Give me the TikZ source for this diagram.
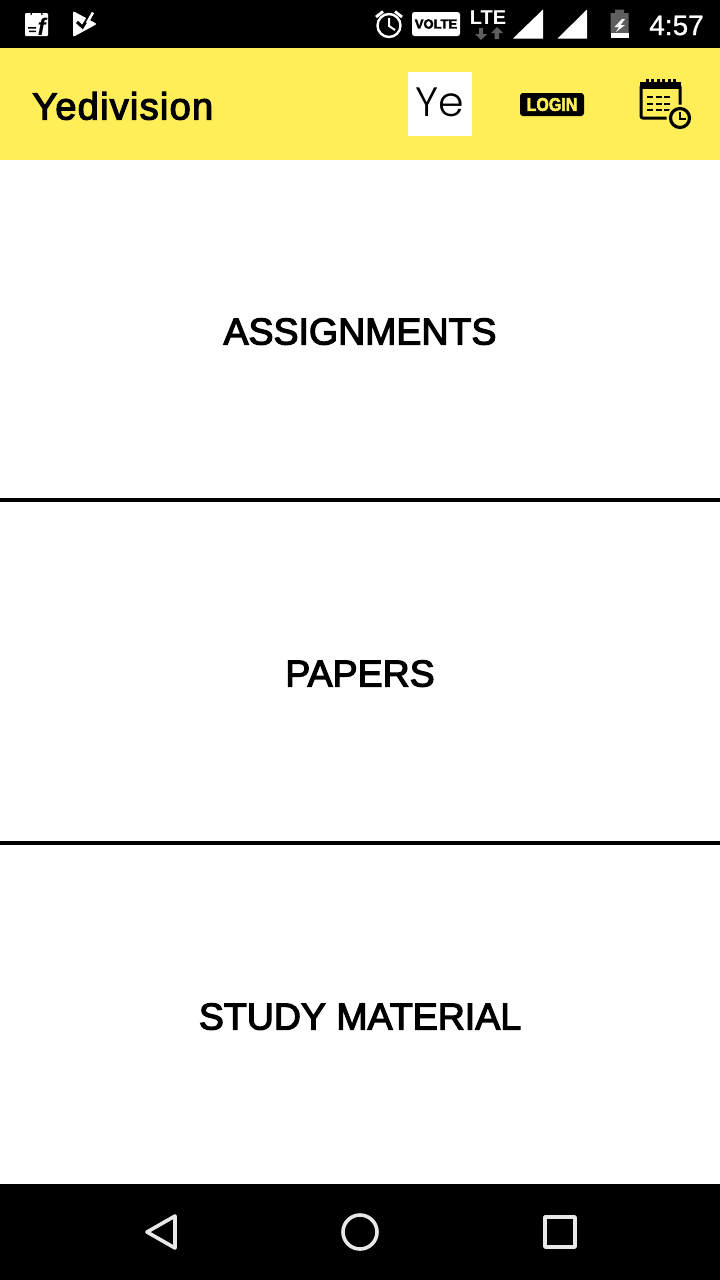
\documentclass[tikz,border=0pt]{standalone}
\usepackage{fontspec}
\setmainfont{Liberation Sans}
\newfontfamily\medfont{Liberation Sans}[FakeBold=3.2]
\newfontfamily\timefont{Liberation Sans}[FakeBold=1]
\newfontfamily\titlefont{Liberation Sans}[FakeBold=3.2,LetterSpace=3.3]
\newfontfamily\heavyfont{Liberation Sans Bold}[FakeBold=3]
\newfontfamily\thinfont{Poppins Light}
\definecolor{hdr}{HTML}{FFEE58}
\definecolor{navw}{HTML}{E8E8E8}
\definecolor{dimg}{HTML}{5E5E5E}
\begin{document}
\begin{tikzpicture}[x=1pt,y=-1pt,
  menu/.style={font=\fontsize{37.5}{37.5}\medfont,anchor=base,inner sep=0pt,text=black},
  divider/.style={line width=4pt,black},
  navicon/.style={draw=navw,line width=3.6pt,line join=round},
  caldash/.style={line width=2.6pt,black}]
\useasboundingbox (0,0) rectangle (720,1280);
\fill[white] (0,0) rectangle (720,1280);
\fill[black] (0,0) rectangle (720,48);
\fill[hdr] (0,48) rectangle (720,160);
\fill[black] (0,1184) rectangle (720,1280);
% status left: bag
\fill[white,rounded corners=1pt] (25,13) rectangle (48,36);
\draw[black,line width=1.2pt] (31,15) arc[start angle=180,end angle=360,x radius=5.5,y radius=6];
\node[inner sep=0pt,anchor=base,text=black] (flip) at (41.5,35) {\fontsize{24}{24}\selectfont\bfseries\itshape f};
\fill[black] (28,27) rectangle (36,28.5) (29,30.5) rectangle (36,32);
% status left: play store
\fill[white,rounded corners=2pt] (73,11) -- (97,24) -- (73,37) -- cycle;
\draw[black,line width=3pt] (77,22) -- (82.5,27) -- (90,15);
\draw[white,line width=2.6pt] (93,12.5) -- (87,23);
% status right
\draw[white,line width=2.4pt] (389,25.5) circle[radius=11.5];
\draw[white,line width=2pt] (389,18) -- (389,26) -- (395,30);
\draw[white,line width=2.8pt] (376,17) -- (383,11.5) (395,11.5) -- (402,17);
\node[fill=white,rounded corners=2.5pt,minimum width=48pt,minimum height=24pt,inner sep=0pt,text=black,font=\fontsize{13}{13}\heavyfont] (volte) at (436,24) {VOLTE};
\node[text=white,inner sep=0pt,anchor=base,font=\fontsize{20}{20}\selectfont\bfseries] (lte) at (488,24.5) {LTE};
\fill[dimg] (479,28) rectangle (483,34) (475,34) -- (487,34) -- (481,40) -- cycle;
\fill[dimg] (494.5,33) rectangle (499,39) (491,33) -- (503,33) -- (497,27) -- cycle;
\fill[white] (513,38.5) -- (543,38.5) -- (543,9.5) -- cycle;
\fill[white] (557.5,38.5) -- (587,38.5) -- (587,9.5) -- cycle;
\fill[dimg] (615,9.5) rectangle (624,13) (610.5,13) rectangle (628.5,33);
\fill[white] (610.5,33) rectangle (628.5,37.5);
\fill[white] (622,19) -- (614.5,27) -- (619,27) -- (616,32) -- (625,25) -- (620.5,25) -- (625,19) -- cycle;
\node[text=white,inner sep=0pt,anchor=base,font=\fontsize{28}{28}\timefont] (clock) at (676.5,35) {4:57};
% header
\node[font=\fontsize{38}{38}\titlefont,anchor=base west,inner sep=0pt,text=black] (title) at (32,119.5) {Yedivision};
\node[fill=white,minimum width=64pt,minimum height=64pt,inner sep=0pt] (logo) at (440,104) {};
\node[font=\fontsize{41}{41}\thinfont,anchor=base,inner sep=0pt,text=black] (ye) at (440,116) {Ye};
\node[fill=black,rounded corners=3pt,minimum width=64pt,minimum height=23pt,inner sep=0pt,text=hdr,font=\fontsize{16}{16}\heavyfont] (login) at (552,104.5) {\scalebox{1}[1.15]{LOGIN}};
% calendar
\draw[black,line width=3pt,rounded corners=2pt] (641,85) rectangle (680,118);
\fill[black] (640,82) rectangle (681,88.5);
\foreach \x in {647,652.5,658,663.5,669,674} \draw[black,line width=3pt] (\x,79) -- (\x,87);
\foreach \y in {97,104,110} {\foreach \x in {647,655.5,664} \draw[caldash] (\x,\y) -- (\x+6,\y);}
\fill[hdr] (680,118) circle[radius=13.5];
\draw[black,line width=3.2pt] (680,118) circle[radius=9.5];
\draw[black,line width=2.2pt] (680,112) -- (680,119) -- (686,119);
% menu
\node[menu] (a) at (360,344.5) {ASSIGNMENTS};
\node[menu] (p) at (360,686.5) {PAPERS};
\node[menu] (s) at (360,1029.5) {STUDY MATERIAL};
\draw[divider] (0,500) -- (720,500);
\draw[divider] (0,843) -- (720,843);
% nav
\draw[navicon] (175,1216) -- (147,1232) -- (175,1248) -- cycle;
\draw[navicon] (360,1232) circle[radius=17];
\draw[navicon] (545,1217) rectangle (575,1247);
\end{tikzpicture}
\end{document}
